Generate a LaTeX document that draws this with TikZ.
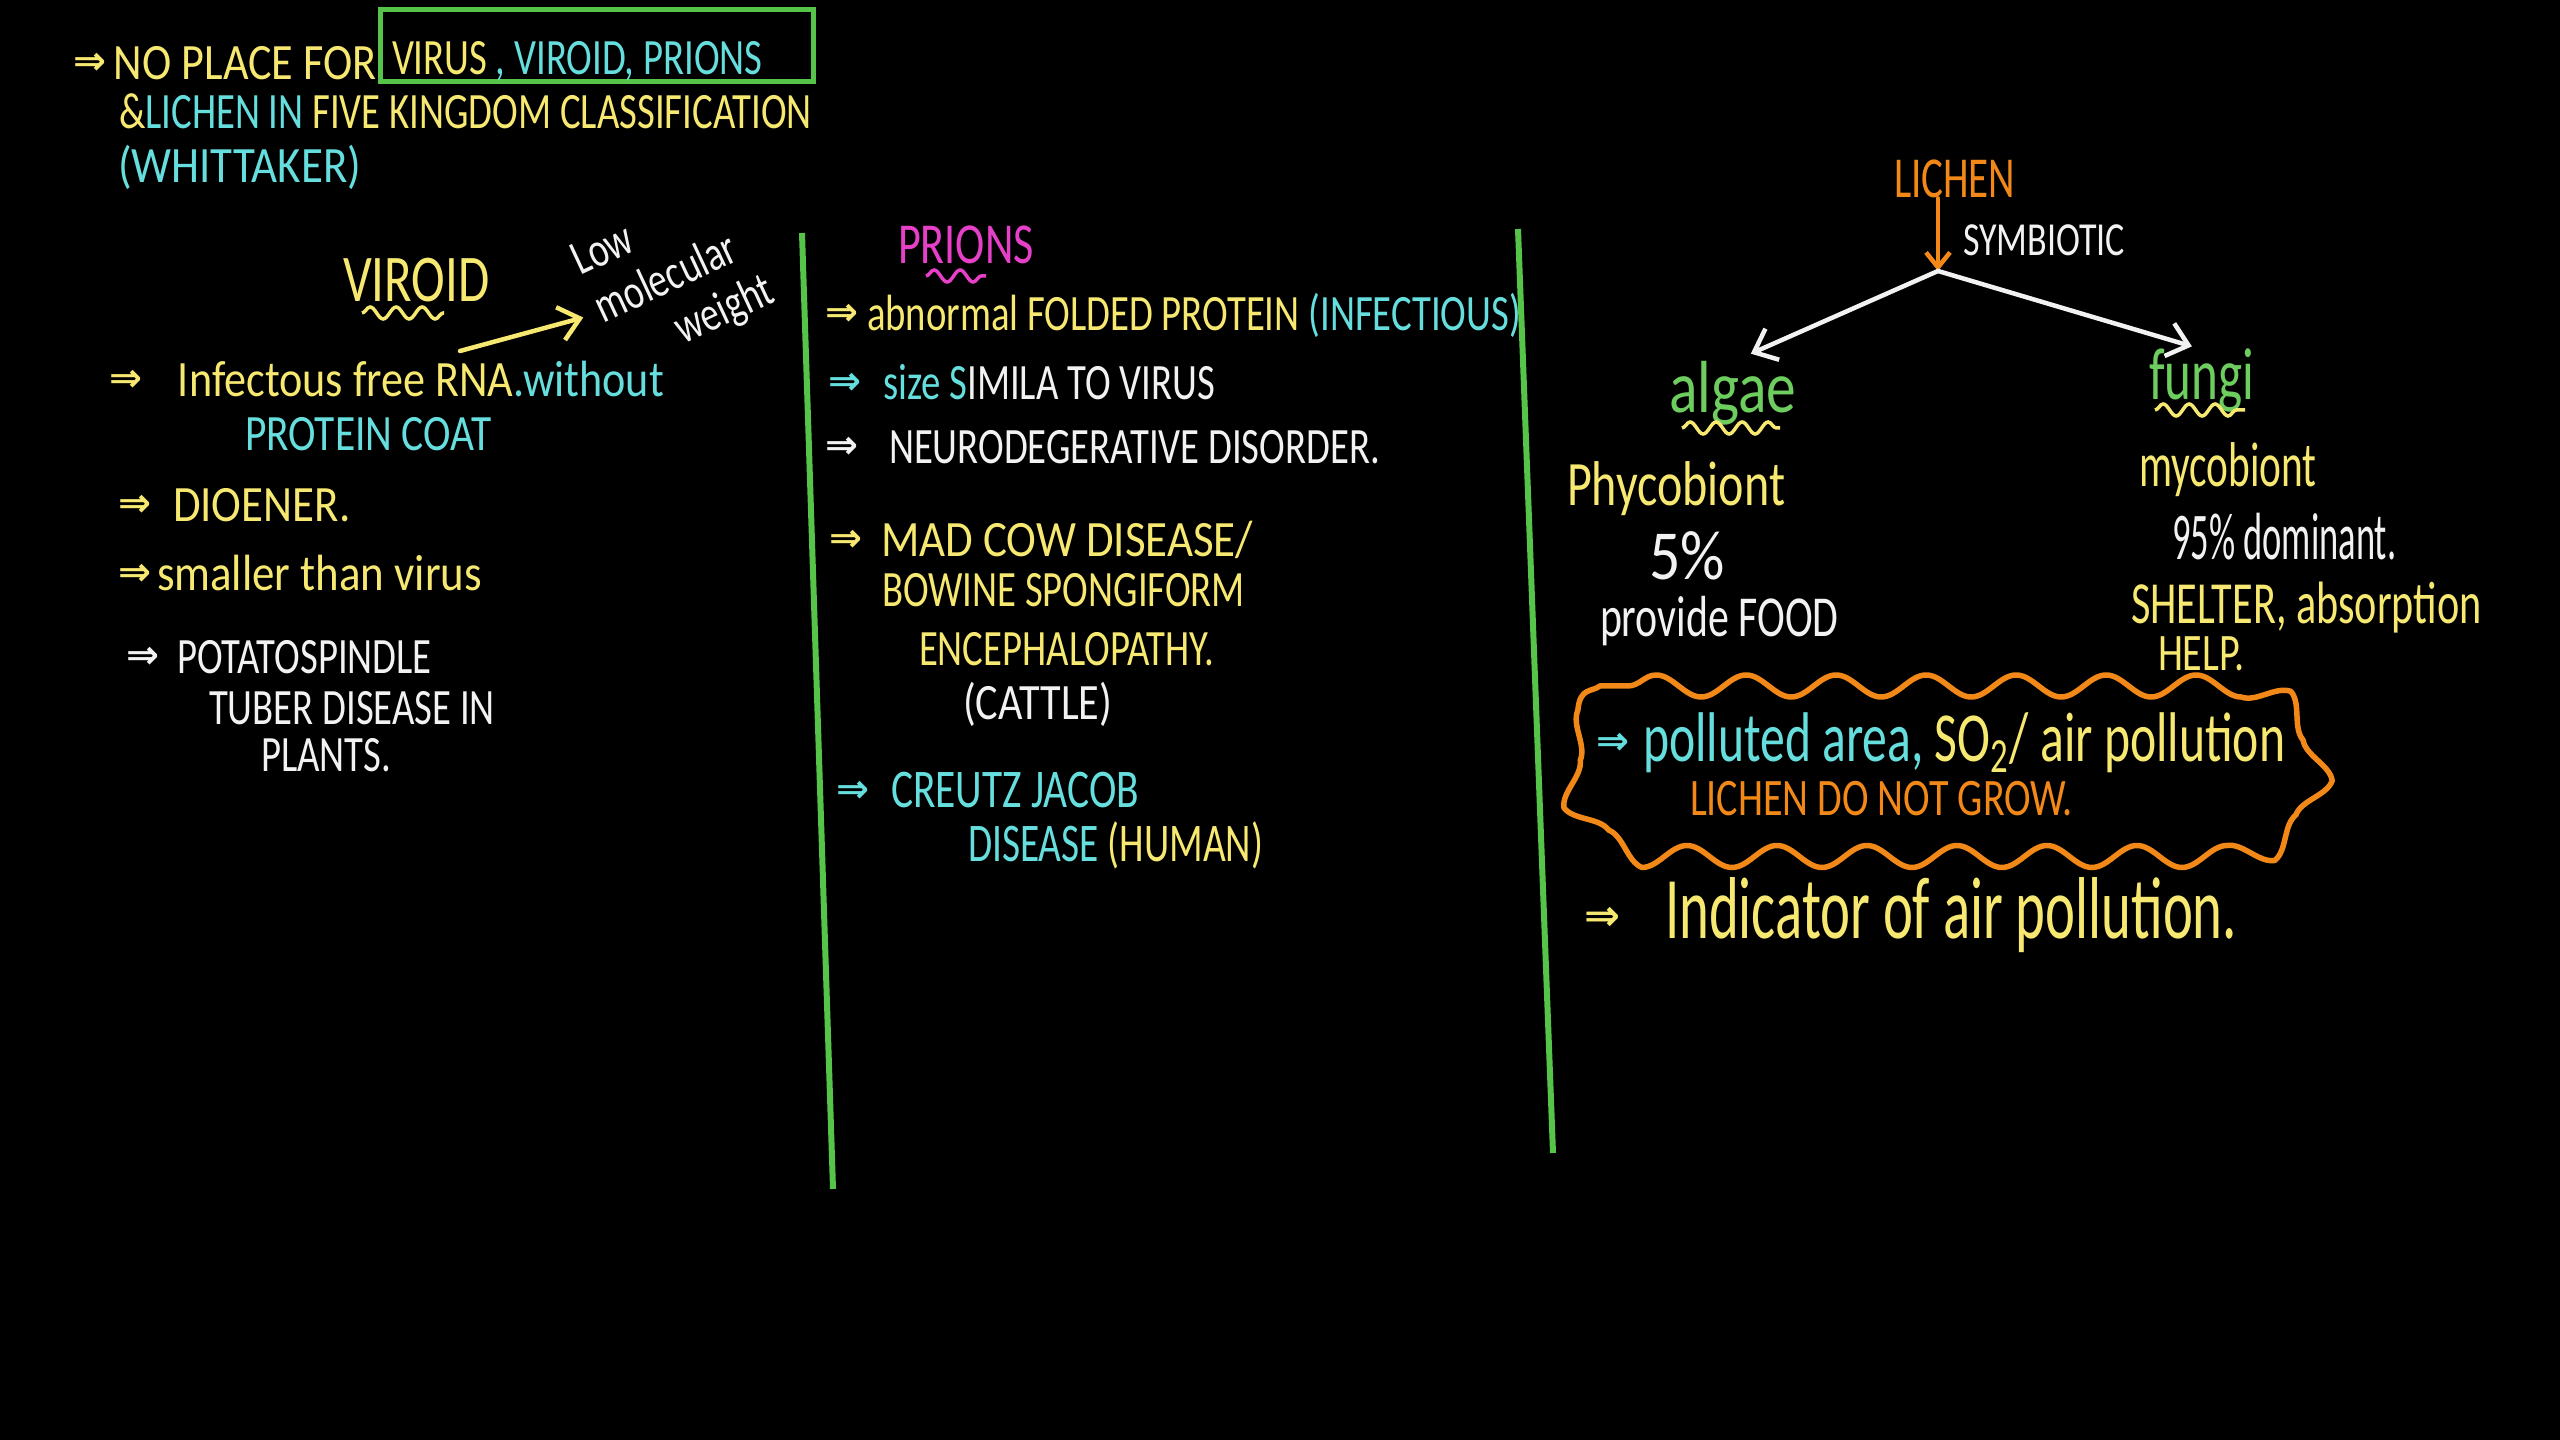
\documentclass[tikz,border=0pt]{standalone}
\usepackage{fontspec}
\setmainfont{Carlito}[FakeStretch=0.76]
\newfontfamily\symf{DejaVu Sans}
\usetikzlibrary{arrows.meta,decorations.pathmorphing}
\definecolor{hy}{RGB}{246,232,112}
\definecolor{hc}{RGB}{102,222,222}
\definecolor{hw}{RGB}{242,242,242}
\definecolor{hg}{RGB}{86,196,72}
\definecolor{hm}{RGB}{230,64,200}
\definecolor{ho}{RGB}{242,136,24}
\definecolor{hlg}{RGB}{110,205,95}
\newcommand\imp[1][3.3mm]{\raisebox{0.1em}{\resizebox{#1}{!}{\symf\bfseries ⇒}}}
\newcommand\sx[2]{\scalebox{#1}[1]{#2}}
\begin{document}
\begin{tikzpicture}[x=0.1mm,y=-0.1mm,
  t/.style={anchor=base west,inner sep=0pt,outer sep=0pt},
  sz/.style={font={\fontsize{#1pt}{#1pt}\selectfont}},
  conn/.style={line width=0.45mm,line cap=round},
  arr/.style={conn,-{Straight Barb[length=2mm,width=3.4mm]}},
  divider/.style={hg,line width=0.6mm},
  squig/.style={line width=0.35mm,decorate,decoration={snake,segment length=2.6mm,amplitude=0.6mm}},
  cloudline/.style={ho,line width=0.55mm,line join=round,decorate,decoration={snake,segment length=9mm,amplitude=1.1mm}}]
\fill[black] (0,0) rectangle (2560,1440);
\useasboundingbox (0,0) rectangle (2560,1440);

% top block
\node[t,sz=14.5,hy] (l1) at (73,80) {\imp\hspace{0.8mm}\sx{1.14}{NO PLACE FOR}};
\draw[hg,line width=0.5mm] (380,10) rectangle (813,82);
\node[t,sz=14.5] (l1b) at (392,75) {\textcolor{hy}{VIRUS}\textcolor{hc}{\,, VIROID, PRIONS}};
\node[t,sz=14.5] (l2) at (119,129) {\textcolor{hy}{\&}\textcolor{hc}{LICHEN IN} \textcolor{hy}{FIVE KINGDOM CLASSIFICATION}};
\node[t,sz=14.5,hc] (l3) at (118,183) {\sx{1.16}{(WHITTAKER)}};

% viroid
\node[t,sz=19,hy] (viroid) at (343,302) {VIROID};
\draw[hy,squig] (362,313) -- (444,313);
\node[sz=14,hw,rotate=25,align=left,inner sep=0pt] (lmw) at (674,278) {Low\\[1pt]molecular\\[1pt]\hspace{1.3em}weight};
\coordinate (rna) at (460,351);
\draw[hy,arr,shorten >=1.5mm] (rna) -- (lmw.west);
\node[t,sz=14.5] (inf) at (109,397) {\textcolor{hy}{\imp\hspace{3.6mm}\sx{1.14}{Infectous free RNA}}\textcolor{hc}{\sx{1.14}{.without}}};
\node[t,sz=14.5,hc] (pc) at (245,451) {\sx{1.07}{PROTEIN COAT}};
\node[t,sz=14.5,hy] (dio) at (118,522) {\imp\hspace{2.2mm}\sx{1.16}{DIOENER.}};
\node[t,sz=14.5,hy] (sm) at (118,591) {\imp\hspace{0.6mm}\sx{1.16}{smaller than virus}};
\node[t,sz=14.5,hw] (pot1) at (126,674) {\imp\hspace{1.8mm}POTATOSPINDLE};
\node[t,sz=14.5,hw] (pot2) at (209,725) {TUBER DISEASE IN};
\node[t,sz=14.5,hw] (pot3) at (261,772) {PLANTS.};

% dividers
\draw[divider] (802,233) -- (833,1189);
\draw[divider] (1518,229) -- (1553,1153);

% prions
\node[t,sz=16.5,hm] (prions) at (898,264) {PRIONS};
\draw[hm,squig] (926,276) -- (986,276);
\node[t,sz=14.5] (ab) at (825,331) {\textcolor{hy}{\imp\hspace{0.9mm}abnormal FOLDED PROTEIN }\textcolor{hc}{(INFECTIOUS)}};
\node[t,sz=14.5] (size) at (828,400) {\textcolor{hc}{\imp\hspace{2.2mm}size S}\textcolor{hw}{IMILA TO VIRUS}};
\node[t,sz=14.5,hw] (neuro) at (825,464) {\imp\hspace{3.1mm}NEURODEGERATIVE DISORDER.};
\node[t,sz=14.5,hy] (mad1) at (829,557) {\imp\hspace{1.9mm}\sx{1.16}{MAD COW DISEASE/}};
\node[t,sz=14.5,hy] (mad2) at (882,607) {BOWINE SPONGIFORM};
\node[t,sz=14.5,hy] (mad3) at (919,666) {ENCEPHALOPATHY.};
\node[t,sz=14.5,hw] (mad4) at (963,720) {\sx{1.09}{(CATTLE)}};
\node[t,sz=15.5,hc] (cj1) at (836,808) {\imp\hspace{2.2mm}CREUTZ JACOB};
\node[t,sz=15.5] (cj2) at (968,862) {\sx{0.95}{\textcolor{hc}{DISEASE }\textcolor{hy}{(HUMAN)}}};

% lichen
\node[t,sz=16.5,ho] (lichen) at (1894,198) {\sx{0.93}{LICHEN}};
\coordinate (split) at (1938,271);
\draw[ho,arr,-{Straight Barb[length=1.5mm,width=2.4mm]}] (lichen.south -| split) -- (split);
\node[t,sz=13.5,hw] (symb) at (1963,256) {SYMBIOTIC};
\node[t,sz=21,hlg] (algae) at (1669,413) {\sx{1.06}{algae}};
\node[t,sz=21,hlg] (fungi) at (2149,400) {\sx{0.91}{fungi}};
\draw[hw,arr,shorten >=2mm] (split) -- (algae.north);
\draw[hw,arr,shorten >=1mm] (split) -- (fungi.north);
\draw[hy,squig] (1682,428) -- (1780,428);
\draw[hy,squig] (2155,410) -- (2245,410);
\node[t,sz=18,hy] (phy) at (1567,506) {Phycobiont};
\node[t,sz=20,hw] (five) at (1649,580) {\sx{1.16}{5\%}};
\node[t,sz=16.5,hw] (food) at (1600,637) {\sx{0.95}{provide FOOD}};
\node[t,sz=18,hy] (myc) at (2139,487) {\sx{0.86}{mycobiont}};
\node[t,sz=19,hw] (ninety) at (2172,560) {\sx{0.72}{95\% dominant.}};
\node[t,sz=17,hy] (shelter) at (2131,624) {\sx{0.93}{SHELTER, absorption}};
\node[t,sz=15,hy] (help) at (2158,671) {HELP.};

\draw[cloudline] (1628,686) -- (2212,686) arc[start angle=-90,end angle=90,radius=85] -- (1628,856) arc[start angle=90,end angle=270,radius=85] -- cycle;
\node[t,sz=20] (poll) at (1596,762) {\textcolor{hc}{\imp\hspace{1.4mm}\sx{0.93}{polluted area, }}\textcolor{hy}{\sx{0.93}{SO\textsubscript{2}/ air pollution}}};
\node[t,sz=15,ho] (nogrow) at (1690,816) {LICHEN DO NOT GROW.};
\node[t,sz=25,hy] (ind) at (1584,939) {\imp[3.6mm]\hspace{4.5mm}\sx{0.85}{Indicator of air pollution.}};
\end{tikzpicture}
\end{document}
